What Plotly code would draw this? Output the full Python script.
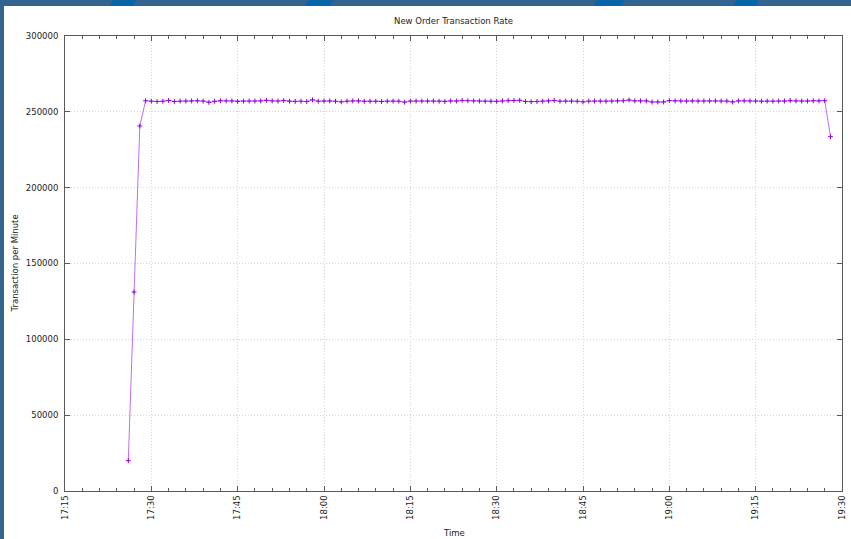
import pandas as pd
import plotly.graph_objects as go

# ---- data ----
start_time = "2024-01-01 17:26"
rate_values = [
    20000, 131200, 240700,
    257300, 257000, 256800, 257000, 257500, 256800, 257100, 257100, 257200, 257300,
    257100, 256300, 257000, 257300, 257200, 257200, 256800, 257000, 257100, 257100,
    257200, 257600, 257200, 257100, 257400, 257000, 256900, 257000, 256800, 257900,
    257000, 257100, 257200, 257000, 256600, 257100, 257200, 257200, 256900, 257000,
    257000, 256800, 257000, 257100, 257000, 256400, 257100, 257100, 257100, 257100,
    257100, 257000, 256800, 257200, 257100, 257500, 257300, 257200, 257100, 257000,
    257000, 256900, 257200, 257500, 257500, 257600, 256800, 256700, 256800, 257000,
    257200, 257500, 257000, 257100, 257100, 257000, 256600, 257100, 257100, 257100,
    257000, 257100, 257200, 257300, 257800, 257200, 257200, 257200, 256500, 256500,
    256500, 257400, 257200, 257200, 257100, 257200, 257100, 257100, 257200, 257200,
    257100, 257100, 256500, 257200, 257300, 257200, 257100, 257000, 257100, 257000,
    257100, 257100, 257500, 257200, 257100, 257100, 257300, 257200, 257400,
    233600,
]
times = pd.date_range(start_time, periods=len(rate_values), freq="1min")

x_range = ["2024-01-01 17:15", "2024-01-01 19:30"]
y_range = [0, 300000]

# ---- layout geometry (pixels) ----
W, H = 851, 539
ML, MR, MT, MB = 65, 9, 36, 48
PW, PH = W - ML - MR, H - MT - MB


def px(xp):
    return (xp - ML) / PW


def py(yp):
    return (H - MB - yp) / PH


FONT = "DejaVu Sans"
TXT = "#222222"
AXC = "#5a5a5a"
GRID = "#d4d4d4"
STRIP = "#33638f"
BRIGHT = "#0765a8"

fig = go.Figure()
fig.add_trace(go.Scatter(
    x=times, y=rate_values, mode="lines+markers",
    line=dict(color="rgba(170,60,240,0.75)", width=1),
    marker=dict(symbol="cross-thin-open", size=3.5,
                line=dict(color="#9400d3", width=1), color="#9400d3"),
    showlegend=False, hoverinfo="x+y",
))

shapes = []
# blue frame strips (page decoration)
shapes.append(dict(type="rect", xref="paper", yref="paper",
                   x0=px(0), x1=px(W), y0=py(6), y1=py(0),
                   fillcolor=STRIP, line=dict(width=0), layer="above"))
shapes.append(dict(type="rect", xref="paper", yref="paper",
                   x0=px(0), x1=px(4), y0=py(H), y1=py(0),
                   fillcolor=STRIP, line=dict(width=0), layer="above"))
for a, b in [(110, 133), (305, 330), (594, 622), (733, 756)]:
    path = "M {} {} L {} {} L {} {} L {} {} Z".format(
        px(a), py(6), px(a + 3), py(0), px(b + 3), py(0), px(b), py(6))
    shapes.append(dict(type="path", xref="paper", yref="paper", path=path,
                       fillcolor=BRIGHT, line=dict(width=0), layer="above"))

fig.update_layout(
    width=W, height=H, autosize=False,
    margin=dict(l=ML, r=MR, t=MT, b=MB, pad=0, autoexpand=False),
    paper_bgcolor="white", plot_bgcolor="white",
    font=dict(family=FONT, size=8.5, color=TXT),
    title=dict(text="New Order Transaction Rate", x=0.5, xref="paper",
               y=1 - 21 / H, yref="container", yanchor="middle", xanchor="center",
               font=dict(family=FONT, size=8.5, color=TXT)),
    shapes=shapes,
    annotations=[
        dict(text="Transaction per Minute", xref="paper", yref="paper",
             x=px(14), y=0.5, textangle=-90, showarrow=False,
             xanchor="center", yanchor="middle",
             font=dict(family=FONT, size=8.5, color=TXT)),
        dict(text="Time", xref="paper", yref="paper",
             x=0.5, y=py(533), showarrow=False,
             xanchor="center", yanchor="middle",
             font=dict(family=FONT, size=8.5, color=TXT)),
    ],
)

fig.update_xaxes(
    type="date", range=x_range, tickformat="%H:%M", dtick=15 * 60 * 1000,
    tick0="2024-01-01 17:15", tickangle=-90, automargin=False,
    ticks="inside", ticklen=5, tickcolor=AXC, tickwidth=1,
    minor=dict(dtick=3 * 60 * 1000, ticks="inside", ticklen=3, tickcolor=AXC,
               showgrid=False),
    showline=True, linecolor=AXC, linewidth=1, mirror="allticks",
    showgrid=True, gridcolor=GRID, griddash="1px,2px", gridwidth=1,
    zeroline=False, tickfont=dict(family=FONT, size=8.5, color=TXT),
)
fig.update_yaxes(
    range=y_range, dtick=50000, tick0=0, automargin=False,
    ticks="inside", ticklen=5, tickcolor=AXC, tickwidth=1,
    showline=True, linecolor=AXC, linewidth=1, mirror="allticks",
    showgrid=True, gridcolor=GRID, griddash="1px,2px", gridwidth=1,
    zeroline=False, exponentformat="none", separatethousands=False,
    tickformat="d", ticklabelstandoff=4,
    tickfont=dict(family=FONT, size=8.5, color=TXT),
)

fig.write_html(
    "out.html",
    config={"displayModeBar": False, "responsive": False},
    post_script="document.body.style.margin='0';document.body.style.overflow='hidden';",
)
